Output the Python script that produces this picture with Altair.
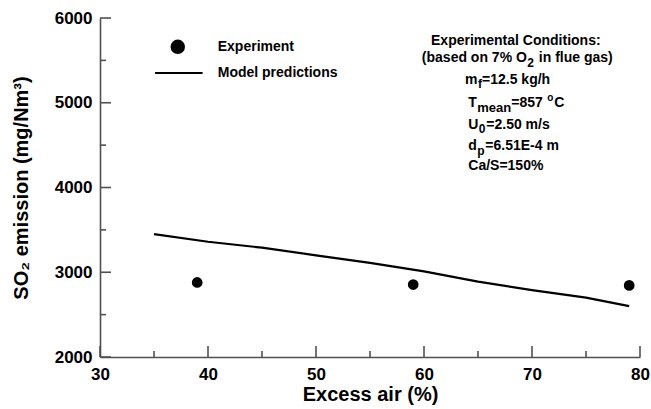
import altair as alt
import pandas as pd

# Measured SO2 emission at three excess-air levels
excess_air_exp = [39, 59, 79]
so2_exp = [2880, 2855, 2845]

# Model prediction curve
excess_air_model = [35, 40, 45, 50, 55, 60, 65, 70, 75, 79]
so2_model = [3450, 3360, 3290, 3200, 3110, 3010, 2890, 2790, 2700, 2600]

# Axis tick values
x_major = [30, 40, 50, 60, 70, 80]
x_minor = [35, 45, 55, 65, 75]
y_major = [2000, 3000, 4000, 5000, 6000]
y_minor = [2500, 3500, 4500, 5500]

FONT = "Liberation Sans"
AXIS_GREY = "#505050"
W, H = 540, 339

xs = alt.Scale(domain=[30, 80], nice=False, zero=False)
ys = alt.Scale(domain=[2000, 6000], nice=False, zero=False)

x_axis = alt.Axis(values=x_major, ticks=False, grid=False, labelPadding=9,
                  labelFlush=False, labelOverlap=False, format="d",
                  title="Excess air (%)", titlePadding=2, titleFontSize=20,
                  domainColor=AXIS_GREY, domainWidth=1.6)
y_axis = alt.Axis(values=y_major, ticks=False, grid=False, labelPadding=8,
                  labelFlush=False, labelOverlap=False, format="d",
                  title="SO₂ emission (mg/Nm³)", titlePadding=23, titleFontSize=20,
                  domainColor=AXIS_GREY, domainWidth=1.6)

X = alt.X("x:Q", scale=xs, axis=x_axis)
Y = alt.Y("y:Q", scale=ys, axis=y_axis)

exp_df = pd.DataFrame({"x": excess_air_exp, "y": so2_exp})
model_df = pd.DataFrame({"x": excess_air_model, "y": so2_model})

model = alt.Chart(model_df).mark_line(color="black", strokeWidth=2.2).encode(x=X, y=Y)
points = alt.Chart(exp_df).mark_point(filled=True, color="black", size=115,
                                      opacity=1).encode(x=X, y=Y)

# Inward-pointing ticks along the bottom and left axes
def x_ticks(vals, length):
    return alt.Chart(pd.DataFrame({"x": vals})).mark_rule(
        color=AXIS_GREY, strokeWidth=1.6).encode(
        x=X, y=alt.value(H), y2=alt.value(H - length))

def y_ticks(vals, length):
    return alt.Chart(pd.DataFrame({"y": vals})).mark_rule(
        color=AXIS_GREY, strokeWidth=1.6).encode(
        y=Y, x=alt.value(0), x2=alt.value(length))

ticks = [x_ticks(x_major, 11), x_ticks(x_minor, 6),
         y_ticks(y_major, 11), y_ticks(y_minor, 6)]

# Legend drawn inside the plot
leg_point = alt.Chart(pd.DataFrame({"x": [37.2], "y": [5660]})).mark_point(
    filled=True, color="black", size=210, opacity=1).encode(x=X, y=Y)
leg_line = alt.Chart(pd.DataFrame({"x": [35.1], "x2": [39.5], "y": [5350]})).mark_rule(
    color="black", strokeWidth=2).encode(x=X, x2="x2:Q", y=Y)


def label(text, x, y, dx=0, dy=0, size=14, align="left", baseline="alphabetic"):
    return alt.Chart(pd.DataFrame({"x": [x], "y": [y], "t": [text]})).mark_text(
        font=FONT, fontWeight="bold", fontSize=size, color="black",
        align=align, baseline=baseline, dx=dx, dy=dy).encode(x=X, y=Y, text="t:N")


legend_texts = [
    label("Experiment", 40.9, 5660, baseline="middle"),
    label("Model predictions", 40.9, 5350, baseline="middle"),
]

# Operating conditions block
cond = [
    label("Experimental Conditions:", 68.5, 5681, align="center"),
    label("(based on 7% O", 59.8, 5481),
    label("2", 59.8, 5481, dx=105.5, dy=5, size=12),
    label("in flue gas)", 59.8, 5481, dx=117),
    label("m", 63.8, 5221),
    label("f", 63.8, 5221, dx=13, dy=4, size=12),
    label("=12.5 kg/h", 63.8, 5221, dx=17),
    label("T", 64.1, 4950),
    label("mean", 64.1, 4950, dx=9, dy=5, size=13),
    label("=857", 64.1, 4950, dx=43),
    label("o", 64.1, 4950, dx=79, dy=-6, size=10),
    label("C", 64.1, 4950, dx=86),
    label("U", 64.1, 4690),
    label("0", 64.1, 4690, dx=10.5, dy=4, size=12),
    label("=2.50 m/s", 64.1, 4690, dx=18),
    label("d", 64.1, 4442),
    label("p", 64.1, 4442, dx=9, dy=5, size=12),
    label("=6.51E-4 m", 64.1, 4442, dx=17),
    label("Ca/S=150%", 64.1, 4206),
]

chart = alt.layer(
    model, points, *ticks, leg_point, leg_line, *legend_texts, *cond
).properties(
    width=W, height=H,
    autosize=alt.AutoSizeParams(type="none"),
    padding={"left": 100, "top": 18, "right": 11, "bottom": 52},
    background="white",
).configure_view(stroke=None).configure_axis(
    labelFont=FONT, labelFontSize=17, labelFontWeight="bold", labelColor="black",
    titleFont=FONT, titleFontWeight="bold", titleColor="black",
)

chart.save("out.html", embed_options={"renderer": "svg", "actions": False})
